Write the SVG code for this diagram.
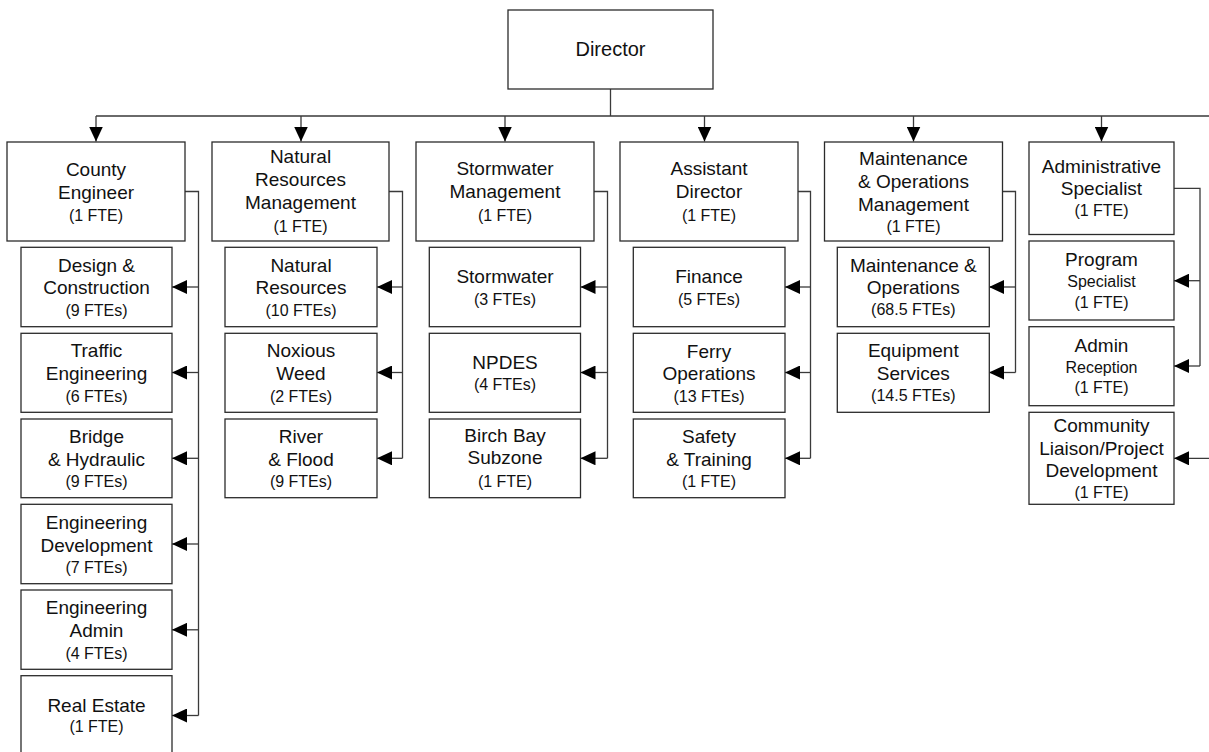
<svg xmlns="http://www.w3.org/2000/svg" width="1209" height="752" viewBox="0 0 1209 752">
<defs>
<style>
.box{fill:#fff;stroke:#2b2b2b;stroke-width:1.3}
.ln{fill:none;stroke:#3a3a3a;stroke-width:1.3}
text{font-family:"Liberation Sans",Arial,sans-serif;fill:#111;text-anchor:middle}
.t{font-size:19px}
.s{font-size:16px}
.d{font-size:20px}
</style>
<marker id="ah" markerWidth="15" markerHeight="14" refX="15" refY="7" orient="auto" markerUnits="userSpaceOnUse"><path d="M0,0 L15,7 L0,14 z" fill="#000"/></marker>
</defs>
<rect width="1209" height="752" fill="#fff"/>

<g id="connectors">
<path class="ln" d="M610.5,89 V116 M96,116 H1209"/>
<line class="ln" x1="96" y1="116" x2="96" y2="141.5" marker-end="url(#ah)"/>
<line class="ln" x1="301" y1="116" x2="301" y2="141.5" marker-end="url(#ah)"/>
<line class="ln" x1="505" y1="116" x2="505" y2="141.5" marker-end="url(#ah)"/>
<line class="ln" x1="704.5" y1="116" x2="704.5" y2="141.5" marker-end="url(#ah)"/>
<line class="ln" x1="913.5" y1="116" x2="913.5" y2="141.5" marker-end="url(#ah)"/>
<line class="ln" x1="1101.5" y1="116" x2="1101.5" y2="141.5" marker-end="url(#ah)"/>
<!-- County Engineer -->
<path class="ln" d="M185,191.5 H198.5 V715.5"/>
<line class="ln" x1="198.5" y1="287" x2="172" y2="287" marker-end="url(#ah)"/>
<line class="ln" x1="198.5" y1="372.5" x2="172" y2="372.5" marker-end="url(#ah)"/>
<line class="ln" x1="198.5" y1="458.3" x2="172" y2="458.3" marker-end="url(#ah)"/>
<line class="ln" x1="198.5" y1="544" x2="172" y2="544" marker-end="url(#ah)"/>
<line class="ln" x1="198.5" y1="629.8" x2="172" y2="629.8" marker-end="url(#ah)"/>
<line class="ln" x1="198.5" y1="715.5" x2="172" y2="715.5" marker-end="url(#ah)"/>
<!-- Natural Resources -->
<path class="ln" d="M389,191.5 H402.5 V458.3"/>
<line class="ln" x1="402.5" y1="287" x2="377" y2="287" marker-end="url(#ah)"/>
<line class="ln" x1="402.5" y1="372.5" x2="377" y2="372.5" marker-end="url(#ah)"/>
<line class="ln" x1="402.5" y1="458.3" x2="377" y2="458.3" marker-end="url(#ah)"/>
<!-- Stormwater -->
<path class="ln" d="M594,191.5 H607.5 V458.3"/>
<line class="ln" x1="607.5" y1="287" x2="580.5" y2="287" marker-end="url(#ah)"/>
<line class="ln" x1="607.5" y1="372.5" x2="580.5" y2="372.5" marker-end="url(#ah)"/>
<line class="ln" x1="607.5" y1="458.3" x2="580.5" y2="458.3" marker-end="url(#ah)"/>
<!-- Assistant Director -->
<path class="ln" d="M798,191.5 H810.5 V458.3"/>
<line class="ln" x1="810.5" y1="287" x2="785" y2="287" marker-end="url(#ah)"/>
<line class="ln" x1="810.5" y1="372.5" x2="785" y2="372.5" marker-end="url(#ah)"/>
<line class="ln" x1="810.5" y1="458.3" x2="785" y2="458.3" marker-end="url(#ah)"/>
<!-- Maintenance -->
<path class="ln" d="M1002.5,191.5 H1015.5 V372.5"/>
<line class="ln" x1="1015.5" y1="287" x2="989" y2="287" marker-end="url(#ah)"/>
<line class="ln" x1="1015.5" y1="372.5" x2="989" y2="372.5" marker-end="url(#ah)"/>
<!-- Administrative Specialist -->
<path class="ln" d="M1174,188.3 H1200 V366"/>
<line class="ln" x1="1200" y1="280.7" x2="1174" y2="280.7" marker-end="url(#ah)"/>
<line class="ln" x1="1200" y1="366" x2="1174" y2="366" marker-end="url(#ah)"/>
<line class="ln" x1="1209" y1="458.3" x2="1174" y2="458.3" marker-end="url(#ah)"/>
</g>

<g id="director">
<rect class="box" x="508" y="10" width="205" height="79"/>
<text class="d" x="610.5" y="56">Director</text>
</g>

<g id="county-engineer">
<rect class="box" x="7" y="142" width="178" height="99"/>
<text class="t" x="96" y="176">County</text>
<text class="t" x="96" y="199">Engineer</text>
<text class="s" x="96" y="221">(1 FTE)</text>
</g>
<g id="natural-resources-management">
<rect class="box" x="212" y="142" width="177" height="99"/>
<text class="t" x="300.5" y="163.3">Natural</text>
<text class="t" x="300.5" y="186">Resources</text>
<text class="t" x="300.5" y="209">Management</text>
<text class="s" x="300.5" y="232">(1 FTE)</text>
</g>
<g id="stormwater-management">
<rect class="box" x="416" y="142" width="178" height="99"/>
<text class="t" x="505" y="175">Stormwater</text>
<text class="t" x="505" y="198">Management</text>
<text class="s" x="505" y="221">(1 FTE)</text>
</g>
<g id="assistant-director">
<rect class="box" x="620" y="142" width="178" height="99"/>
<text class="t" x="709" y="175">Assistant</text>
<text class="t" x="709" y="198">Director</text>
<text class="s" x="709" y="221">(1 FTE)</text>
</g>
<g id="maintenance-operations-management">
<rect class="box" x="824.5" y="142" width="178" height="99"/>
<text class="t" x="913.5" y="165">Maintenance</text>
<text class="t" x="913.5" y="188">&amp; Operations</text>
<text class="t" x="913.5" y="210.5">Management</text>
<text class="s" x="913.5" y="232">(1 FTE)</text>
</g>
<g id="administrative-specialist">
<rect class="box" x="1029" y="142" width="145" height="92.5"/>
<text class="t" x="1101.5" y="172.7">Administrative</text>
<text class="t" x="1101.5" y="195">Specialist</text>
<text class="s" x="1101.5" y="216">(1 FTE)</text>
</g>

<!-- County Engineer children -->
<g id="design-construction">
<rect class="box" x="21" y="247.3" width="151" height="79.4"/>
<text class="t" x="96.5" y="271.7">Design &amp;</text>
<text class="t" x="96.5" y="294.3">Construction</text>
<text class="s" x="96.5" y="316">(9 FTEs)</text>
</g>
<g id="traffic-engineering">
<rect class="box" x="21" y="333.3" width="151" height="79"/>
<text class="t" x="96.5" y="357.3">Traffic</text>
<text class="t" x="96.5" y="380">Engineering</text>
<text class="s" x="96.5" y="401.7">(6 FTEs)</text>
</g>
<g id="bridge-hydraulic">
<rect class="box" x="21" y="419" width="151" height="78.7"/>
<text class="t" x="96.5" y="442.7">Bridge</text>
<text class="t" x="96.5" y="465.7">&amp; Hydraulic</text>
<text class="s" x="96.5" y="486.7">(9 FTEs)</text>
</g>
<g id="engineering-development">
<rect class="box" x="21" y="504.3" width="151" height="79.4"/>
<text class="t" x="96.5" y="529">Engineering</text>
<text class="t" x="96.5" y="551.7">Development</text>
<text class="s" x="96.5" y="573.3">(7 FTEs)</text>
</g>
<g id="engineering-admin">
<rect class="box" x="21" y="590" width="151" height="79.3"/>
<text class="t" x="96.5" y="614.3">Engineering</text>
<text class="t" x="96.5" y="636.7">Admin</text>
<text class="s" x="96.5" y="659">(4 FTEs)</text>
</g>
<g id="real-estate">
<rect class="box" x="21" y="675.7" width="151" height="90"/>
<text class="t" x="96.5" y="711.7">Real Estate</text>
<text class="s" x="96.5" y="732.3">(1 FTE)</text>
</g>

<!-- Natural Resources children -->
<g id="natural-resources">
<rect class="box" x="225" y="247.3" width="152" height="79.4"/>
<text class="t" x="301" y="271.7">Natural</text>
<text class="t" x="301" y="294.3">Resources</text>
<text class="s" x="301" y="316">(10 FTEs)</text>
</g>
<g id="noxious-weed">
<rect class="box" x="225" y="333.3" width="152" height="79"/>
<text class="t" x="301" y="357.3">Noxious</text>
<text class="t" x="301" y="380">Weed</text>
<text class="s" x="301" y="401.7">(2 FTEs)</text>
</g>
<g id="river-flood">
<rect class="box" x="225" y="419" width="152" height="78.7"/>
<text class="t" x="301" y="442.7">River</text>
<text class="t" x="301" y="465.7">&amp; Flood</text>
<text class="s" x="301" y="486.7">(9 FTEs)</text>
</g>

<!-- Stormwater children -->
<g id="stormwater">
<rect class="box" x="429.3" y="247.3" width="151.2" height="79.4"/>
<text class="t" x="505" y="283.3">Stormwater</text>
<text class="s" x="505" y="305">(3 FTEs)</text>
</g>
<g id="npdes">
<rect class="box" x="429.3" y="333.3" width="151.2" height="79"/>
<text class="t" x="505" y="369">NPDES</text>
<text class="s" x="505" y="390">(4 FTEs)</text>
</g>
<g id="birch-bay-subzone">
<rect class="box" x="429.3" y="419" width="151.2" height="78.7"/>
<text class="t" x="505" y="441.7">Birch Bay</text>
<text class="t" x="505" y="464">Subzone</text>
<text class="s" x="505" y="487.3">(1 FTE)</text>
</g>

<!-- Assistant Director children -->
<g id="finance">
<rect class="box" x="633.3" y="247.3" width="151.7" height="79.4"/>
<text class="t" x="709" y="283.3">Finance</text>
<text class="s" x="709" y="305">(5 FTEs)</text>
</g>
<g id="ferry-operations">
<rect class="box" x="633.3" y="333.3" width="151.7" height="79"/>
<text class="t" x="709" y="358.3">Ferry</text>
<text class="t" x="709" y="380">Operations</text>
<text class="s" x="709" y="401.7">(13 FTEs)</text>
</g>
<g id="safety-training">
<rect class="box" x="633.3" y="419" width="151.7" height="78.7"/>
<text class="t" x="709" y="442.7">Safety</text>
<text class="t" x="709" y="465.7">&amp; Training</text>
<text class="s" x="709" y="487.3">(1 FTE)</text>
</g>

<!-- Maintenance children -->
<g id="maintenance-operations">
<rect class="box" x="837.3" y="247.3" width="152" height="79.4"/>
<text class="t" x="913.3" y="271.7">Maintenance &amp;</text>
<text class="t" x="913.3" y="294.3">Operations</text>
<text class="s" x="913.3" y="315">(68.5 FTEs)</text>
</g>
<g id="equipment-services">
<rect class="box" x="837.3" y="333.3" width="152" height="79"/>
<text class="t" x="913.3" y="357.3">Equipment</text>
<text class="t" x="913.3" y="380">Services</text>
<text class="s" x="913.3" y="401">(14.5 FTEs)</text>
</g>

<!-- Administrative Specialist children -->
<g id="program-specialist">
<rect class="box" x="1029" y="241" width="145" height="79"/>
<text class="t" x="1101.5" y="266">Program</text>
<text class="s" x="1101.5" y="286.7">Specialist</text>
<text class="s" x="1101.5" y="307.7">(1 FTE)</text>
</g>
<g id="admin-reception">
<rect class="box" x="1029" y="326.7" width="145" height="79"/>
<text class="t" x="1101.5" y="352.3">Admin</text>
<text class="s" x="1101.5" y="372.7">Reception</text>
<text class="s" x="1101.5" y="393.3">(1 FTE)</text>
</g>
<g id="community-liaison">
<rect class="box" x="1029" y="412.3" width="145" height="92"/>
<text class="t" x="1101.5" y="432.3">Community</text>
<text class="t" x="1101.5" y="455">Liaison/Project</text>
<text class="t" x="1101.5" y="477.3">Development</text>
<text class="s" x="1101.5" y="497.7">(1 FTE)</text>
</g>
</svg>
